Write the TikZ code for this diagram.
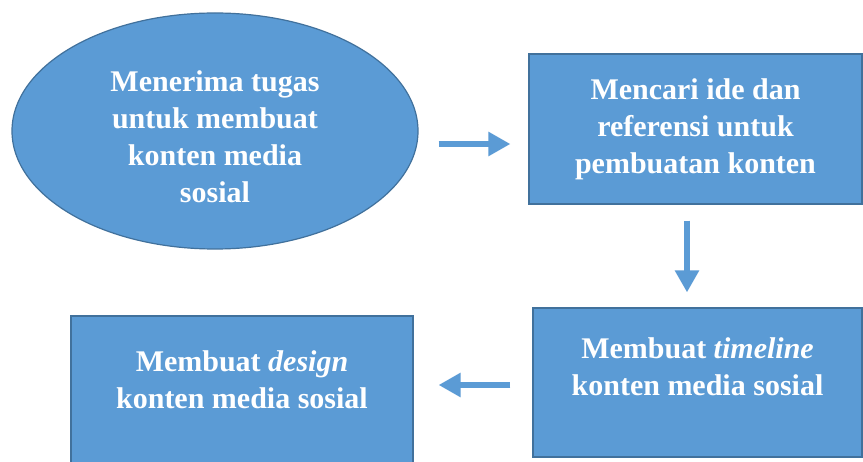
\documentclass[tikz,border=0pt]{standalone}
\usepackage{fontspec}
\setmainfont{Liberation Serif}
\usetikzlibrary{shapes.geometric,arrows.meta}
\definecolor{boxblue}{HTML}{5B9BD5}
\definecolor{edgeblue}{HTML}{41719C}
\tikzset{
  shapebase/.style={fill=boxblue, draw=edgeblue, line width=1.2pt, text=white,
    align=center, inner sep=0pt, font=\fontsize{30}{37}\selectfont\bfseries},
  stepbox/.style={shapebase, rectangle},
  startoval/.style={shapebase, ellipse},
  flowarrow/.style={draw=boxblue, line width=6pt,
    -{Triangle[width=23pt,length=22pt]}}
}
\begin{document}
\begin{tikzpicture}[x=1pt,y=1pt]
\useasboundingbox (0,0) rectangle (863,461);
\clip (0,0) rectangle (863,461);
\fill[white] (0,0) rectangle (863,461);
% ellipse
\node[startoval, minimum width=406pt, minimum height=236pt] (e1) at (215,330)
  {\strut\\[-30pt]Menerima tugas\\untuk membuat\\konten media\\sosial};
% top right box
\node[stepbox, minimum width=333pt, minimum height=150pt] (b2) at (695.5,332)
  {Mencari ide dan\\referensi untuk\\pembuatan konten};
% bottom right box
\node[stepbox, minimum width=329pt, minimum height=149pt] (b3) at (697.5,78.5)
  {Membuat \textit{timeline}\\konten media sosial\\[-17pt]\strut};
% bottom left box
\node[stepbox, minimum width=342pt, minimum height=160pt] (b4) at (242,65)
  {Membuat \textit{design}\\konten media sosial\\[-16pt]\strut};
% arrows
\draw[flowarrow] ([xshift=20pt,yshift=-13pt]e1.east) -- ([xshift=-18pt,yshift=-15pt]b2.west);
\draw[flowarrow] ([xshift=-8.5pt,yshift=-16pt]b2.south) -- ([xshift=-10.5pt,yshift=15pt]b3.north);
\draw[flowarrow] ([xshift=-22pt,yshift=-2.5pt]b3.west) -- ([xshift=25pt,yshift=11pt]b4.east);
\end{tikzpicture}
\end{document}
